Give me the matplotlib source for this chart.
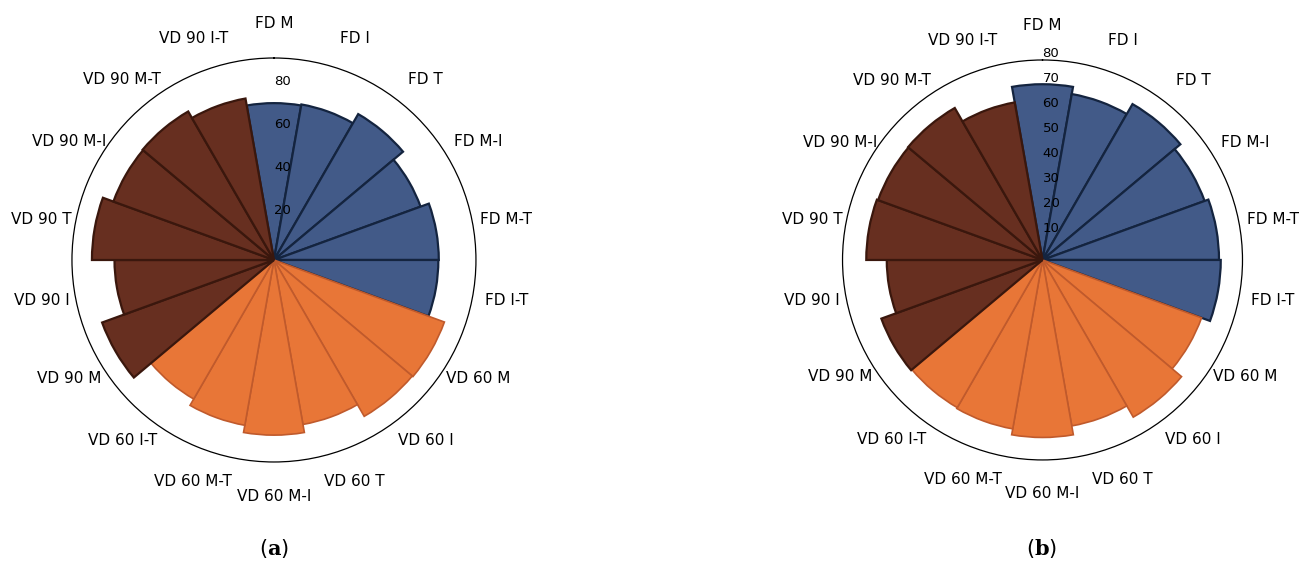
import numpy as np
import matplotlib
matplotlib.use("Agg")
import matplotlib.pyplot as plt

plt.rcParams["font.family"] = "DejaVu Sans"
plt.rcParams["mathtext.fontset"] = "dejavuserif"

# categories, clockwise from the top
categories = ["FD M", "FD I", "FD T", "FD M-I", "FD M-T", "FD I-T",
              "VD 60 M", "VD 60 I", "VD 60 T", "VD 60 M-I", "VD 60 M-T", "VD 60 I-T",
              "VD 90 M", "VD 90 I", "VD 90 T", "VD 90 M-I", "VD 90 M-T", "VD 90 I-T"]
groups = ["FD"] * 6 + ["VD 60"] * 6 + ["VD 90"] * 6

# panel (a) values
values_a = [73.0, 73.5, 78.4, 72.6, 76.7, 76.5,
            84.4, 84.0, 77.7, 81.5, 78.1, 74.7,
            85.1, 74.2, 84.7, 79.5, 79.8, 76.3]
# panel (b) values
values_b = [70.3, 67.4, 72.0, 69.0, 70.6, 71.3,
            67.7, 72.6, 67.4, 71.0, 68.6, 68.2,
            68.6, 62.3, 70.5, 70.0, 70.2, 64.0]

rticks_a = [20, 40, 60, 80]
rticks_b = [10, 20, 30, 40, 50, 60, 70, 80]

fill = {"FD": "#425A88", "VD 60": "#E87637", "VD 90": "#672F20"}
edge = {"FD": "#14243F", "VD 60": "#C05A2C", "VD 90": "#3A170D"}
lw = {"FD": 1.6, "VD 60": 1.2, "VD 90": 1.6}


def rose(ax, vals, rticks, rmax):
    n = len(vals)
    theta = np.arange(n) * 2 * np.pi / n
    ax.set_theta_zero_location("N")
    ax.set_theta_direction(-1)
    for g in ["FD", "VD 60", "VD 90"]:
        idx = [i for i, gg in enumerate(groups) if gg == g]
        ax.bar(theta[idx], [vals[i] for i in idx], width=2 * np.pi / n,
               color=fill[g], edgecolor=edge[g], linewidth=lw[g])
    ax.set_axisbelow(False)
    ax.set_ylim(0, rmax)
    ax.set_xticks(theta)
    ax.set_xticklabels(categories, fontsize=11)
    ax.tick_params(axis="x", which="both", pad=17.5, length=0)
    ax.set_yticks(rticks)
    ax.set_yticklabels([str(t) for t in rticks], fontsize=9.5)
    ax.tick_params(axis="y", which="both", length=0, tick1On=False, tick2On=False)
    ax.tick_params(axis="x", which="both", tick1On=False, tick2On=False)
    ax.set_rlabel_position(0)
    ax.grid(False)
    ax.spines["polar"].set_linewidth(0.9)
    for s in ["start", "end", "inner"]:
        ax.spines[s].set_visible(False)


fig = plt.figure(figsize=(12.99, 5.63), dpi=100)
ax1 = fig.add_axes([0.0554, 0.1794, 0.311, 0.7176], projection="polar")
ax2 = fig.add_axes([0.6486, 0.1830, 0.3079, 0.7105], projection="polar")
rose(ax1, values_a, rticks_a, 94)
rose(ax2, values_b, rticks_b, 80)

fig.text(274 / 1299, 1 - 549 / 563, r"($\mathbf{a}$)", ha="center", va="center",
         fontsize=15)
fig.text(1042 / 1299, 1 - 549 / 563, r"($\mathbf{b}$)", ha="center", va="center",
         fontsize=15)

fig.savefig("out.png", dpi=100)
